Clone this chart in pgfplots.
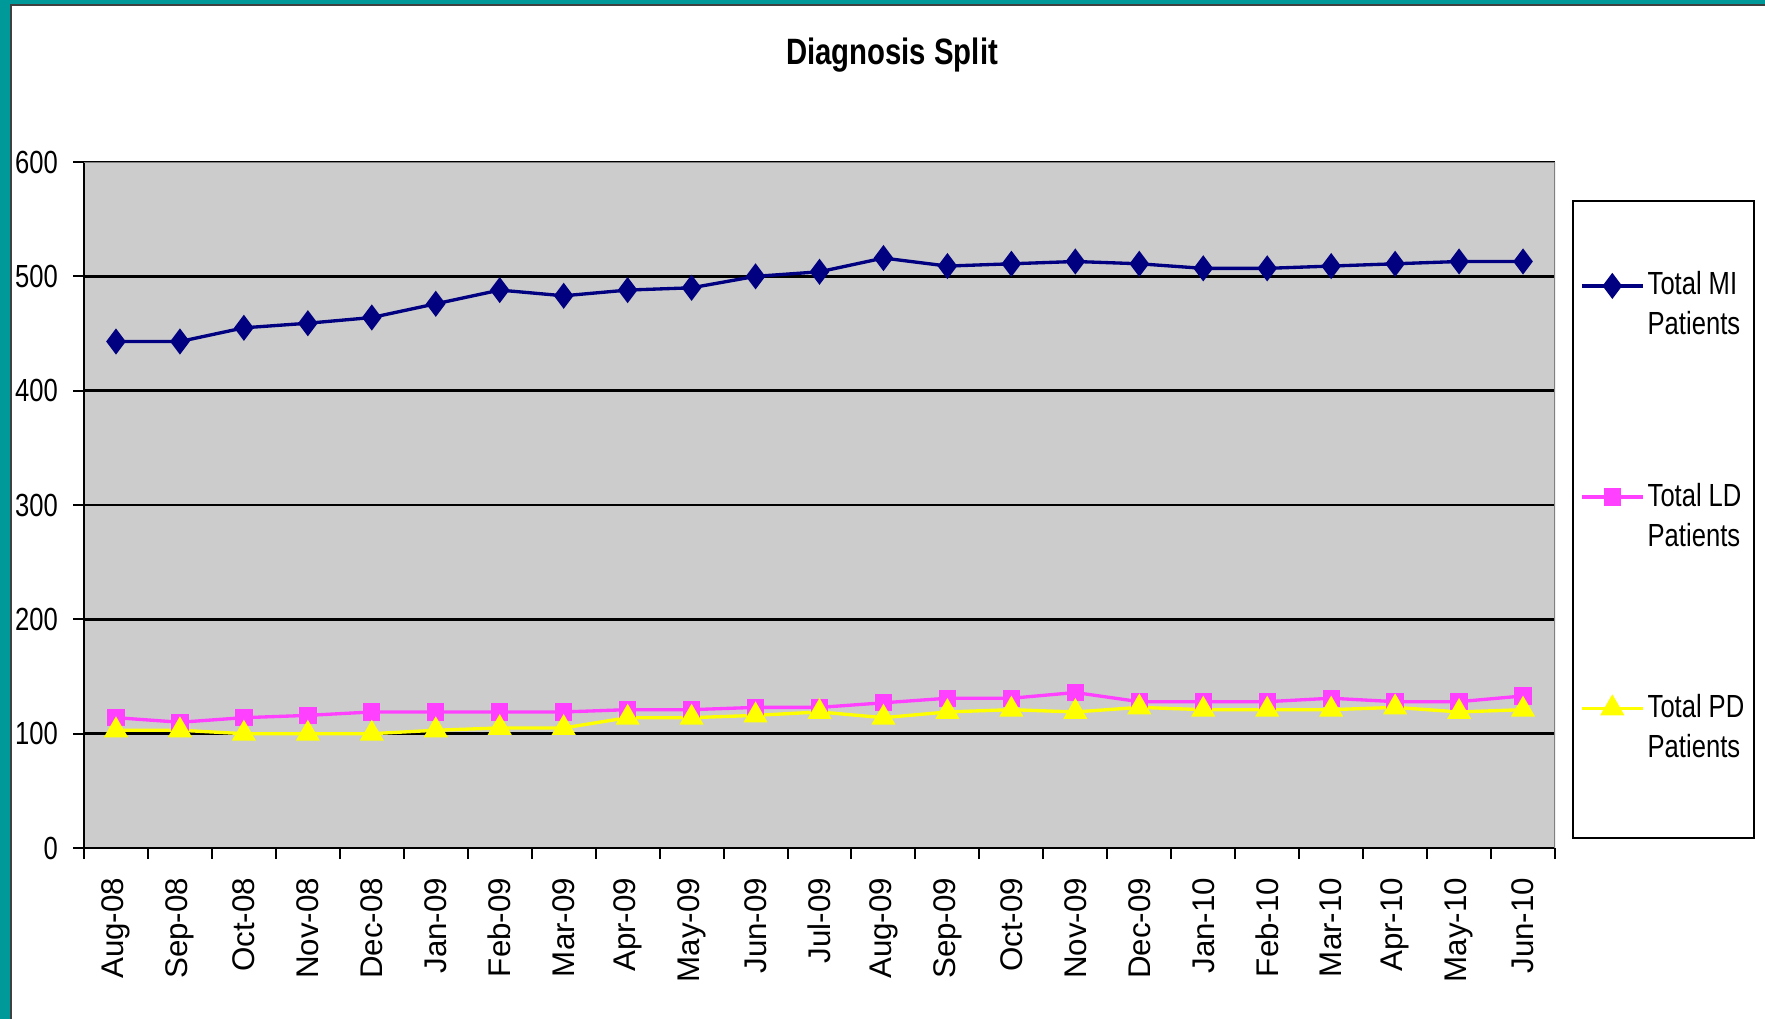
\documentclass[border=0pt]{standalone}
\usepackage{pgfplots}
\pgfplotsset{compat=1.18}
\usepackage{pgfplotstable}
\usepackage{fontspec}
\setmainfont{Liberation Sans}
\newfontfamily\narrowfont[FakeStretch=0.8]{Liberation Sans}
\definecolor{tealc}{RGB}{0,153,153}
\definecolor{plotgray}{RGB}{204,204,204}
\definecolor{navyc}{RGB}{0,0,128}
\definecolor{magc}{RGB}{255,64,255}
\definecolor{yelc}{RGB}{255,255,0}
\definecolor{framegray}{RGB}{128,128,128}

\pgfplotstableread{
x MI LD PD
0 443 114 103
1 443 110 103
2 455 114 100
3 459 116 100
4 464 119 100
5 476 119 103
6 488 119 105
7 483 119 105
8 488 121 114
9 490 121 114
10 500 123 116
11 504 123 119
12 516 127 114
13 509 131 119
14 511 131 121
15 513 136 119
16 511 128 123
17 507 128 121
18 507 128 121
19 509 131 121
20 511 128 123
21 513 128 119
22 513 133 121
}\data

\begin{document}
\begin{tikzpicture}
\path[use as bounding box, fill=white] (0pt,0pt) rectangle (529.5pt,305.7pt);
\fill[tealc] (0pt,0pt) rectangle (3.0pt,305.7pt);
\fill[tealc] (0pt,304.6pt) rectangle (529.5pt,305.7pt);
\draw[black!75, line width=0.6pt] (3.3pt,0pt) -- (3.3pt,304.3pt) -- (529.5pt,304.3pt);
\draw[black, line width=0.6pt] (471.9pt,54.4pt) rectangle (526.2pt,245.3pt);
\begin{axis}[
  at={(25.2pt,51.3pt)}, anchor=south west,
  scale only axis, width=441.3pt, height=205.8pt,
  xmin=-0.5, xmax=22.5, ymin=0, ymax=600,
  axis background/.style={fill=plotgray},
  axis x line*=bottom, axis y line*=left,
  axis line style={-, black, line width=0.8pt},
  xtick={0,...,22},
  xticklabels={Aug-08,Sep-08,Oct-08,Nov-08,Dec-08,Jan-09,Feb-09,Mar-09,Apr-09,May-09,Jun-09,Jul-09,Aug-09,Sep-09,Oct-09,Nov-09,Dec-09,Jan-10,Feb-10,Mar-10,Apr-10,May-10,Jun-10},
  minor xtick={-0.5,0.5,...,22.5},
  ytick={0,100,...,600},
  minor ytick={0,100,...,600},
  major tick length=0pt,
  minor tick length=3.3pt,
  tick align=outside,
  tick style={black, line width=0.6pt},
  ymajorgrids=true,
  major grid style={black, line width=0.8pt},
  xticklabel style={yshift=-5.4pt, rotate=90, anchor=east, font=\fontsize{9.4}{11}\selectfont},
  yticklabel style={xshift=-4.3pt, font=\narrowfont\fontsize{9.6}{11}\selectfont},
  /pgf/number format/assume math mode=true,
  legend cell align=left,
  legend image code/.code={\draw[mark repeat=2,mark phase=2] plot coordinates {(0cm,0cm) (0.32cm,0cm) (0.64cm,0cm)};},
  legend style={at={(1.0122,0.943)}, anchor=north west, draw=none, fill=none,
    font=\narrowfont\fontsize{9.6}{12}\selectfont, row sep=52.9pt, inner xsep=2pt, inner ysep=20pt,
    nodes={text width=31pt, align=left, inner sep=1pt}},
]
\addplot[navyc, line width=1pt, mark=diamond*, mark size=3.1pt, mark options={solid, fill=navyc}] table[x=x,y=MI]{\data};
\addlegendentry{Total\hspace{2.1pt}MI\\Patients}
\addplot[magc, line width=1pt, mark=square*, mark size=2.1pt, mark options={solid, fill=magc}] table[x=x,y=LD]{\data};
\addlegendentry{Total\hspace{2.1pt}LD\\Patients}
\addplot[yelc, line width=1pt, mark=triangle*, mark size=3.2pt, mark options={solid, fill=yelc}] table[x=x,y=PD]{\data};
\addlegendentry{Total\hspace{2.1pt}PD\\Patients}
\draw[framegray, line width=0.8pt] (axis description cs:0,1) -- (axis description cs:1,1) -- (axis description cs:1,0);
\end{axis}
\node[font=\narrowfont\bfseries\fontsize{11}{13}\selectfont] at (267.6pt,289.1pt) {Diagnosis Split};
\end{tikzpicture}
\end{document}
